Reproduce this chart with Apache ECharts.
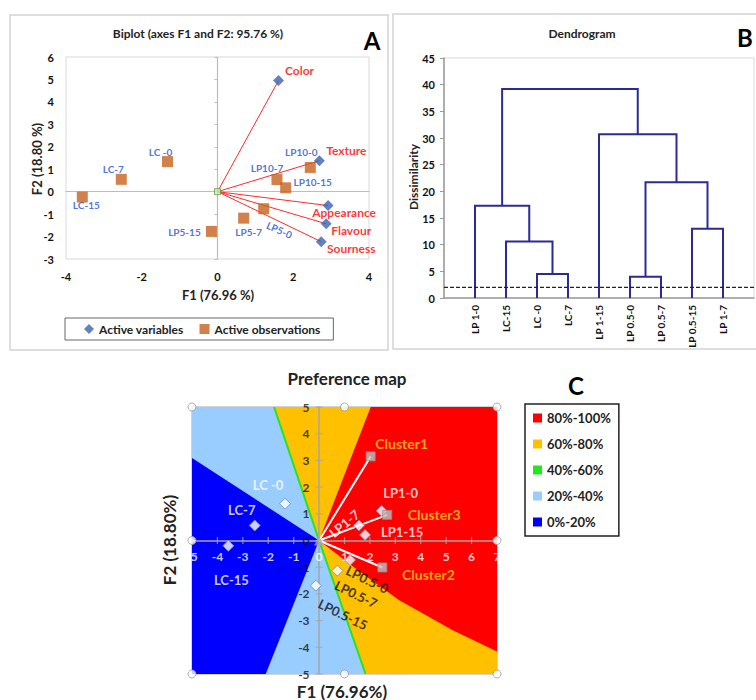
<!DOCTYPE html>
<html><head><meta charset="utf-8">
<script src="https://cdn.jsdelivr.net/npm/echarts@6/dist/echarts.min.js"></script>
<style>html,body{margin:0;padding:0;background:#fff}#c{width:756px;height:700px}</style>
</head><body><div id="c"></div>
<script>
// ---------------- Panel A : biplot ----------------
const varNames = ['Color', 'Texture', 'Appearance', 'Flavour', 'Sourness'];
const varF1 = [1.61, 2.69, 2.92, 2.87, 2.74];
const varF2 = [4.95, 1.38, -0.62, -1.43, -2.23];
const obsNames = ['LC -0', 'LC-7', 'LC-15', 'LP10-0', 'LP10-7', 'LP10-15', 'LP5-0', 'LP5-7', 'LP5-15'];
const obsF1 = [-1.32, -2.54, -3.57, 2.45, 1.57, 1.80, 1.22, 0.69, -0.16];
const obsF2 = [1.34, 0.55, -0.24, 1.08, 0.54, 0.17, -0.76, -1.18, -1.77];
const biplotTitle = 'Biplot (axes F1 and F2: 95.76 %)';

// ---------------- Panel B : dendrogram ----------------
const leafNames = ['LP 1-0', 'LC-15', 'LC -0', 'LC-7', 'LP 1-15', 'LP 0.5-0', 'LP 0.5-7', 'LP 0.5-15', 'LP 1-7'];
// node ids: leaves 0..8, merges 9.. in order
const mergeA = [2, 5, 1, 7, 0, 10, 4, 13];
const mergeB = [3, 6, 9, 8, 11, 12, 14, 15];
const mergeH = [4.5, 4.0, 10.6, 13.0, 17.3, 21.7, 30.7, 39.2];
const cutLevel = 2.0;

// ---------------- Panel C : preference map ----------------
const prefNames = ['LC -0', 'LC-7', 'LC-15', 'LP1-0', 'LP1-7', 'LP1-15', 'LP0.5-0', 'LP0.5-7', 'LP0.5-15'];
const prefF1 = [-1.34, -2.53, -3.57, 2.46, 1.57, 1.81, 1.22, 0.72, -0.13];
const prefF2 = [1.38, 0.56, -0.20, 1.11, 0.56, 0.21, -0.73, -1.13, -1.69];
const clusterNames = ['Cluster1', 'Cluster3', 'Cluster2'];
const clusterF1 = [2.03, 2.68, 2.49];
const clusterF2 = [3.15, 0.96, -1.01];
const prefXTicks = [-5, -4, -3, -2, -1, 0, 1, 2, 3, 4, 5, 6, 7];
const prefYTicks = [5, 4, 3, 2, 1, 0, -1, -2, -3, -4, -5];
const zoneNames = ['80%-100%', '60%-80%', '40%-60%', '20%-40%', '0%-20%'];
const zoneRed = [[0, 0], [2.03, 5], [7, 5], [7, -4.16], [5.24, -3.35], [3.14, -2.23], [1.5, -1.1]];
const zoneYellow = [[-1.77, 5], [7, 5], [7, -5], [1.83, -5], [0, 0]];
const zoneGreen = [[-1.77, 5], [0, 0], [1.83, -5]];
const zoneLightBlue = [[-5, 5], [7, 5], [7, -5], [-5, -5]];
const zoneDarkBlue = [[-5, 3.09], [0, 0], [-2.1, -5], [-5, -5]];

// ---------------- styles ----------------
const FONT = 'Lato, "Liberation Sans", Arial, sans-serif';
const C_RANGE = {xMin: -5, xMax: 7, yMin: -5, yMax: 5};
const labelA = { // dx, dy, rotate
  'Color': [21, -10, 0], 'Texture': [27, -10, 0], 'Appearance': [16, 7, 0], 'Flavour': [25, 7, 0], 'Sourness': [30, 7, 0],
  'LC -0': [-7, -10, 0], 'LC-7': [-8, -10, 0], 'LC-15': [4, 8, 0], 'LP10-0': [-9, -15, 0], 'LP10-7': [-10, -12, 0],
  'LP10-15': [27, -6, 0], 'LP5-0': [23, 13, -24], 'LP5-7': [5, 14, 0], 'LP5-15': [-27, 1, 0]
};
const labelC = {
  'LC -0': [-17, -19, 0, '#fff'], 'LC-7': [-13, -16, 0, '#fff'], 'LC-15': [3, 34, 0, '#fff'],
  'LP1-0': [19, -18, 0, '#fff'], 'LP1-7': [-10, -11, 40, '#fff'], 'LP1-15': [37, -3, 0, '#fff'],
  'LP0.5-0': [24, 10, -26, '#111'], 'LP0.5-7': [27, 13, -26, '#111'], 'LP0.5-15': [37, 14, -26, '#111'],
  'Cluster1': [31, -13, 0, '#ffd21f'], 'Cluster3': [47, 0, 0, '#ffd21f'], 'Cluster2': [46, 7, 0, '#ffd21f']
};

function pts(names, xs, ys, styleMap, color, size) {
  return names.map((n, i) => {
    const s = styleMap[n];
    return {
      name: n, value: [xs[i], ys[i]],
      label: {show: true, position: 'inside', formatter: '{b}', offset: [s[0], s[1]], rotate: s[2],
        color: s[3] || color, fontWeight: 'bold', fontSize: size, fontFamily: FONT}
    };
  });
}

// dendrogram geometry from merges
const nodeX = leafNames.map((_, i) => i + 1);
const nodeH = leafNames.map(() => 0);
const dendroLinks = [];
mergeA.forEach((a, k) => {
  const b = mergeB[k], h = mergeH[k];
  dendroLinks.push({coords: [[nodeX[a], nodeH[a]], [nodeX[a], h], [nodeX[b], h], [nodeX[b], nodeH[b]]]});
  nodeX.push((nodeX[a] + nodeX[b]) / 2);
  nodeH.push(h);
});

function zoneSeries(name, poly, color, isLine) {
  return {
    type: 'custom', name: name, coordinateSystem: 'cartesian2d', xAxisIndex: 3, yAxisIndex: 3,
    itemStyle: {color: color}, z: 1, silent: true, clip: true,
    data: [[0, 0]],
    renderItem: function (params, api) {
      const p = poly.map(q => api.coord(q));
      if (isLine) return {type: 'polyline', shape: {points: p}, style: {stroke: color, lineWidth: 2, fill: null}};
      return {type: 'polygon', shape: {points: p}, style: {fill: color}};
    }
  };
}

const xMid = (C_RANGE.xMin + C_RANGE.xMax) / 2, yMid = (C_RANGE.yMin + C_RANGE.yMax) / 2;
const handleX = [], handleY = [];
[C_RANGE.xMin, xMid, C_RANGE.xMax].forEach(x => {
  [C_RANGE.yMin, yMid, C_RANGE.yMax].forEach(y => {
    if (!(x === xMid && y === yMid)) { handleX.push(x); handleY.push(y); }
  });
});

const boldLbl = (sz, col) => ({fontWeight: 'bold', fontSize: sz, color: col || '#111', fontFamily: FONT});
const noSplit = {show: false};
const hidden = {show: false};

const option = {
  animation: false,
  textStyle: {fontFamily: FONT},
  grid: [
    {left: 66, top: 57, width: 303, height: 202, show: true, borderColor: '#d9d9d9', borderWidth: 1},
    {left: 444, top: 58, width: 310, height: 240, show: true, borderColor: '#d9d9d9', borderWidth: 1},
    {left: 192, top: 407, width: 305, height: 267, show: true, borderColor: '#a6a6a6', borderWidth: 1}
  ],
  xAxis: [
    {gridIndex: 0, type: 'value', min: -4, max: 4, interval: 2, axisLine: {show: false, onZero: false}, axisTick: hidden,
      splitLine: noSplit, axisLabel: Object.assign({margin: 12}, boldLbl(11))},
    {gridIndex: 0, type: 'value', min: -4, max: 4, interval: 1, position: 'bottom', axisLine: {show: true, onZero: true, lineStyle: {color: '#bdbdbd', width: 1.2}},
      axisTick: hidden, axisLabel: hidden, splitLine: noSplit},
    {gridIndex: 1, type: 'value', min: 0, max: 10, interval: 1, axisLine: {lineStyle: {color: '#9a9a9a', width: 1.5}}, axisTick: hidden,
      splitLine: noSplit, axisLabel: Object.assign({rotate: 90, margin: 7, formatter: v => (v >= 1 && v <= leafNames.length) ? leafNames[v - 1] : ''}, boldLbl(10))},
    {gridIndex: 2, type: 'value', min: C_RANGE.xMin, max: C_RANGE.xMax, interval: 1,
      axisLine: {show: false, onZero: false}, axisTick: hidden, splitLine: noSplit, axisLabel: hidden}
  ],
  yAxis: [
    {gridIndex: 0, type: 'value', min: -3, max: 6, interval: 1, axisLine: {show: false, onZero: false}, axisTick: hidden,
      splitLine: noSplit, axisLabel: Object.assign({margin: 12}, boldLbl(11))},
    {gridIndex: 0, type: 'value', min: -3, max: 6, interval: 1, position: 'left', axisLine: {show: true, onZero: true, lineStyle: {color: '#bdbdbd', width: 1.2}},
      axisTick: {show: true, length: 3, lineStyle: {color: '#bdbdbd'}}, axisLabel: hidden, splitLine: noSplit},
    {gridIndex: 1, type: 'value', min: 0, max: 45, interval: 5, axisLine: {show: true, lineStyle: {color: '#9a9a9a', width: 1.5}},
      axisTick: {show: true, length: 4, lineStyle: {color: '#9a9a9a'}}, splitLine: noSplit, axisLabel: Object.assign({margin: 9}, boldLbl(11))},
    {gridIndex: 2, type: 'value', min: C_RANGE.yMin, max: C_RANGE.yMax, interval: 1,
      axisLine: {show: false, onZero: false}, axisTick: hidden, splitLine: noSplit, axisLabel: hidden}
  ],
  legend: [
    {left: 65, top: 318, orient: 'horizontal', padding: [5, 13, 5, 19], itemGap: 16, itemWidth: 10, itemHeight: 10, itemTextGap: 4,
      borderColor: '#666', borderWidth: 1, selectedMode: false,
      textStyle: {fontWeight: 'bold', fontSize: 12, color: '#222', fontFamily: FONT},
      data: [{name: 'Active variables', icon: 'diamond'}, {name: 'Active observations', icon: 'rect'}]},
    {left: 525, top: 404, orient: 'vertical', padding: [6, 8, 6, 8], itemGap: 10, itemWidth: 9, itemHeight: 9, itemTextGap: 4,
      borderColor: '#222', borderWidth: 1.5, selectedMode: false,
      textStyle: {fontWeight: 'bold', fontSize: 13, color: '#222', fontFamily: FONT, lineHeight: 16},
      data: zoneNames.map(n => ({name: n, icon: 'rect'}))}
  ],
  graphic: [
    {type: 'rect', shape: {x: 10, y: 15, width: 378, height: 335}, style: {fill: 'none', stroke: '#d4d4d4', lineWidth: 1.5}, z: -5, silent: true},
    {type: 'rect', shape: {x: 393, y: 14, width: 380, height: 335}, style: {fill: 'none', stroke: '#d4d4d4', lineWidth: 1.5}, z: -5, silent: true},
    {type: 'text', x: 198, y: 33, style: {text: biplotTitle, font: 'bold 12px ' + FONT, fill: '#222', textAlign: 'center', textVerticalAlign: 'middle'}},
    {type: 'text', x: 372, y: 40, style: {text: 'A', font: 'bold 24px ' + FONT, fill: '#000', textAlign: 'center', textVerticalAlign: 'middle'}},
    {type: 'text', x: 37, y: 159, rotation: Math.PI / 2, style: {text: 'F2 (18.80 %)', font: 'bold 13px ' + FONT, fill: '#222', textAlign: 'center', textVerticalAlign: 'middle'}},
    {type: 'text', x: 218, y: 295, style: {text: 'F1 (76.96 %)', font: 'bold 13px ' + FONT, fill: '#222', textAlign: 'center', textVerticalAlign: 'middle'}},
    {type: 'text', x: 582, y: 33, style: {text: 'Dendrogram', font: 'bold 12px ' + FONT, fill: '#222', textAlign: 'center', textVerticalAlign: 'middle'}},
    {type: 'text', x: 745, y: 37, style: {text: 'B', font: 'bold 24px ' + FONT, fill: '#000', textAlign: 'center', textVerticalAlign: 'middle'}},
    {type: 'text', x: 413, y: 177, rotation: Math.PI / 2, style: {text: 'Dissimilarity', font: 'bold 12px ' + FONT, fill: '#222', textAlign: 'center', textVerticalAlign: 'middle'}},
    {type: 'text', x: 347, y: 378, style: {text: 'Preference map', font: 'bold 17px ' + FONT, fill: '#222', textAlign: 'center', textVerticalAlign: 'middle'}},
    {type: 'text', x: 576, y: 385, style: {text: 'C', font: 'bold 24px ' + FONT, fill: '#000', textAlign: 'center', textVerticalAlign: 'middle'}},
    {type: 'text', x: 169, y: 540, rotation: Math.PI / 2, style: {text: 'F2 (18.80%)', font: 'bold 17px ' + FONT, fill: '#222', textAlign: 'center', textVerticalAlign: 'middle'}},
    {type: 'text', x: 342, y: 691, style: {text: 'F1 (76.96%)', font: 'bold 17px ' + FONT, fill: '#222', textAlign: 'center', textVerticalAlign: 'middle'}}
  ],
  series: [
    // ----- A -----
    {type: 'lines', coordinateSystem: 'cartesian2d', xAxisIndex: 0, yAxisIndex: 0, silent: true, z: 2,
      lineStyle: {color: '#ff2a2a', width: 1, opacity: 1},
      data: varNames.map((n, i) => ({coords: [[0, 0], [varF1[i], varF2[i]]]}))},
    {type: 'scatter', name: 'Active observations', xAxisIndex: 0, yAxisIndex: 0, symbol: 'rect', symbolSize: 11, z: 4,
      itemStyle: {color: '#c8621d'}, data: pts(obsNames, obsF1, obsF2, labelA, '#1f4fd1', 10)},
    {type: 'scatter', name: 'Active variables', xAxisIndex: 0, yAxisIndex: 0, symbol: 'diamond', symbolSize: 11, z: 5,
      itemStyle: {color: '#3a62b3'}, data: pts(varNames, varF1, varF2, labelA, '#ff0000', 12)},
    {type: 'scatter', xAxisIndex: 0, yAxisIndex: 0, symbol: 'rect', symbolSize: 6, z: 6, silent: true,
      itemStyle: {color: '#cfe8c0', borderColor: '#5fa040', borderWidth: 1}, data: [[0, 0]]},
    // ----- B -----
    {type: 'lines', coordinateSystem: 'cartesian2d', xAxisIndex: 2, yAxisIndex: 2, polyline: true, silent: true,
      lineStyle: {color: '#2b2b98', width: 2, opacity: 1}, data: dendroLinks},
    {type: 'line', xAxisIndex: 2, yAxisIndex: 2, symbol: 'none', silent: true,
      lineStyle: {color: '#222', width: 1.3, type: [4, 2]}, data: [[0, cutLevel], [10, cutLevel]]},
    // ----- C -----
    zoneSeries('20%-40%', zoneLightBlue, '#99ccff', false),
    zoneSeries('60%-80%', zoneYellow, '#ffc000', false),
    zoneSeries('80%-100%', zoneRed, '#ff0000', false),
    zoneSeries('0%-20%', zoneDarkBlue, '#0000ff', false),
    zoneSeries('40%-60%', zoneGreen, '#22e622', true),
    // zero axes of the preference map
    {type: 'lines', coordinateSystem: 'cartesian2d', xAxisIndex: 3, yAxisIndex: 3, silent: true, z: 3,
      lineStyle: {color: '#a6a6a6', width: 1.5, opacity: 1},
      data: [{coords: [[C_RANGE.xMin, 0], [C_RANGE.xMax, 0]]}, {coords: [[0, C_RANGE.yMin], [0, C_RANGE.yMax]]}]},
    {type: 'scatter', xAxisIndex: 3, yAxisIndex: 3, symbol: 'rect', symbolSize: [1.2, 7], z: 3, silent: true,
      itemStyle: {color: '#a6a6a6'},
      label: {show: true, position: 'inside', offset: [0, 16], formatter: p => String(p.value[0]), color: '#fff', fontWeight: 'bold', fontSize: 12, fontFamily: FONT},
      data: prefXTicks.map(v => [v, 0])},
    {type: 'scatter', xAxisIndex: 3, yAxisIndex: 3, symbol: 'rect', symbolSize: [7, 1.2], z: 3, silent: true,
      itemStyle: {color: '#a6a6a6'},
      label: {show: true, position: 'left', distance: 6, formatter: p => String(p.value[1]), color: '#111', fontWeight: 'bold', fontSize: 12, fontFamily: FONT},
      data: prefYTicks.map(v => [0, v])},
    {type: 'lines', coordinateSystem: 'cartesian2d', xAxisIndex: 3, yAxisIndex: 3, silent: true, z: 4,
      lineStyle: {color: '#ffffff', width: 2, opacity: 1},
      data: clusterNames.map((n, i) => ({coords: [[0, 0], [clusterF1[i], clusterF2[i]]]}))},
    {type: 'scatter', xAxisIndex: 3, yAxisIndex: 3, symbol: 'diamond', symbolSize: 11, z: 5, silent: true,
      itemStyle: {color: '#ffffff', borderColor: '#6f86b8', borderWidth: 1},
      data: pts(prefNames, prefF1, prefF2, labelC, '#fff', 13)},
    {type: 'scatter', xAxisIndex: 3, yAxisIndex: 3, symbol: 'rect', symbolSize: 9, z: 5, silent: true,
      itemStyle: {color: '#bfbfbf', borderColor: '#8c8c8c', borderWidth: 1},
      data: pts(clusterNames, clusterF1, clusterF2, labelC, '#ffd21f', 14)},
    {type: 'scatter', xAxisIndex: 3, yAxisIndex: 3, symbol: 'triangle', symbolSize: 10, z: 5, silent: true,
      itemStyle: {color: '#a6a6a6'}, data: [[0, 0]]},
    {type: 'scatter', xAxisIndex: 3, yAxisIndex: 3, symbol: 'circle', symbolSize: 8, z: 6, silent: true,
      itemStyle: {color: '#ffffff', borderColor: '#9a9a9a', borderWidth: 1},
      data: handleX.map((x, i) => [x, handleY[i]])}
  ]
};
const chart = echarts.init(document.getElementById('c'), null, {renderer: 'svg', width: 756, height: 700});
chart.setOption(option);
</script>
</body></html>
